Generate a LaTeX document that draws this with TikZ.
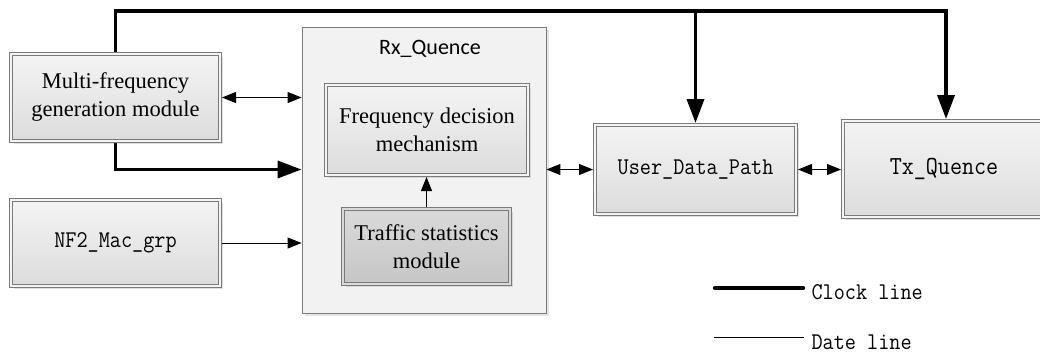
\documentclass[tikz,border=0pt]{standalone}
\usepackage{fontspec}
\setmainfont{Liberation Serif}
\setmonofont[FakeStretch=0.9]{Latin Modern Mono}
\newfontfamily\calfont{Carlito}
\usetikzlibrary{arrows.meta,shadows,calc}
\definecolor{rxfill}{HTML}{F2F2F2}
\definecolor{boxtop}{HTML}{F4F4F4}
\definecolor{boxbot}{HTML}{DCDCDC}
\definecolor{trtop}{HTML}{DADADA}
\definecolor{trbot}{HTML}{C6C6C6}
\definecolor{edge}{HTML}{7A7A7A}
\begin{document}
\begin{tikzpicture}[x=1pt,y=-1pt,
  dbox/.style={draw=edge, line width=0.9pt, double=boxtop, double distance=2.4pt,
    top color=boxtop, bottom color=boxbot, outer sep=2pt,
    drop shadow={shadow xshift=2.5pt, shadow yshift=-2.5pt, opacity=0.25, fill=gray},
    align=center, inner sep=0pt},
  serif/.style={font=\fontsize{22.5}{28}\selectfont},
  mono/.style={font=\ttfamily\fontsize{24}{28}\selectfont},
  clk/.style={line width=3.6pt, line join=miter},
  clktip/.tip={Triangle[length=24pt,width=17pt]},
  thin/.style={line width=1pt},
  thintip/.tip={Triangle[length=14pt,width=11pt]}
]
\useasboundingbox (0,0) rectangle (1040,354);

% Rx_Quence container
\node[draw=edge, line width=0.9pt, fill=rxfill, minimum width=244pt, minimum height=286pt,
      drop shadow={shadow xshift=2.5pt, shadow yshift=-2.5pt, opacity=0.2, fill=gray}]
      (rx) at (424,170) {};
\node[font=\calfont\fontsize{22}{26}\selectfont] (rxl) at (430,49) {Rx\_Quence};

% boxes
\node[dbox, serif, minimum width=209pt, minimum height=87pt] (multi) at (115.5,97.5)
  {Multi-frequency\\generation module};
\node[dbox, mono, minimum width=209pt, minimum height=86pt] (nf2) at (115.5,243) {NF2\_Mac\_grp};
\node[dbox, serif, minimum width=202pt, minimum height=90pt] (freq) at (427,130)
  {Frequency decision\\mechanism};
\node[dbox, serif, top color=trtop, bottom color=trbot, double=trtop,
      minimum width=167pt, minimum height=75pt] (traffic) at (426.5,246.5)
  {Traffic statistics\\module};
\node[dbox, mono, minimum width=201pt, minimum height=89pt] (udp) at (695.5,169.5) {User\_Data\_Path};
\node[dbox, mono, font=\ttfamily\fontsize{26}{30}\selectfont, minimum width=202pt, minimum height=96pt]
  (tx) at (944,169) {Tx\_Quence};

% clock lines
\coordinate (ctop) at (946,11);
\draw[clk, -clktip] (multi.north) |- (ctop) -- (ctop |- tx.north);
\draw[clk, -clktip] (ctop -| udp.north) -- (udp.north);
\draw[clk, -clktip] (multi.south) |- (rx.west |- udp.west);

% data lines
\draw[thin, thintip-thintip] (multi.east) -- (multi.east -| rx.west);
\draw[thin, -thintip] (nf2.east) -- (nf2.east -| rx.west);
\draw[thin, thintip-thintip] (rx.east |- udp.west) -- (udp.west);
\draw[thin, thintip-thintip] (udp.east) -- (udp.east -| tx.west);
\draw[thin, -thintip] (traffic.north) -- (traffic.north |- freq.south);

% legend
\node[mono, anchor=west] (lclk) at (808,292) {Clock line};
\node[mono, anchor=west] (ldat) at (808,342) {Date line};
\draw[line width=4.4pt, line cap=round] ($(lclk.west)+(-93,-4)$) -- ($(lclk.west)+(-5,-4)$);
\draw[thin] ($(ldat.west)+(-94,-5)$) -- ($(ldat.west)+(-4,-5)$);
\end{tikzpicture}
\end{document}
